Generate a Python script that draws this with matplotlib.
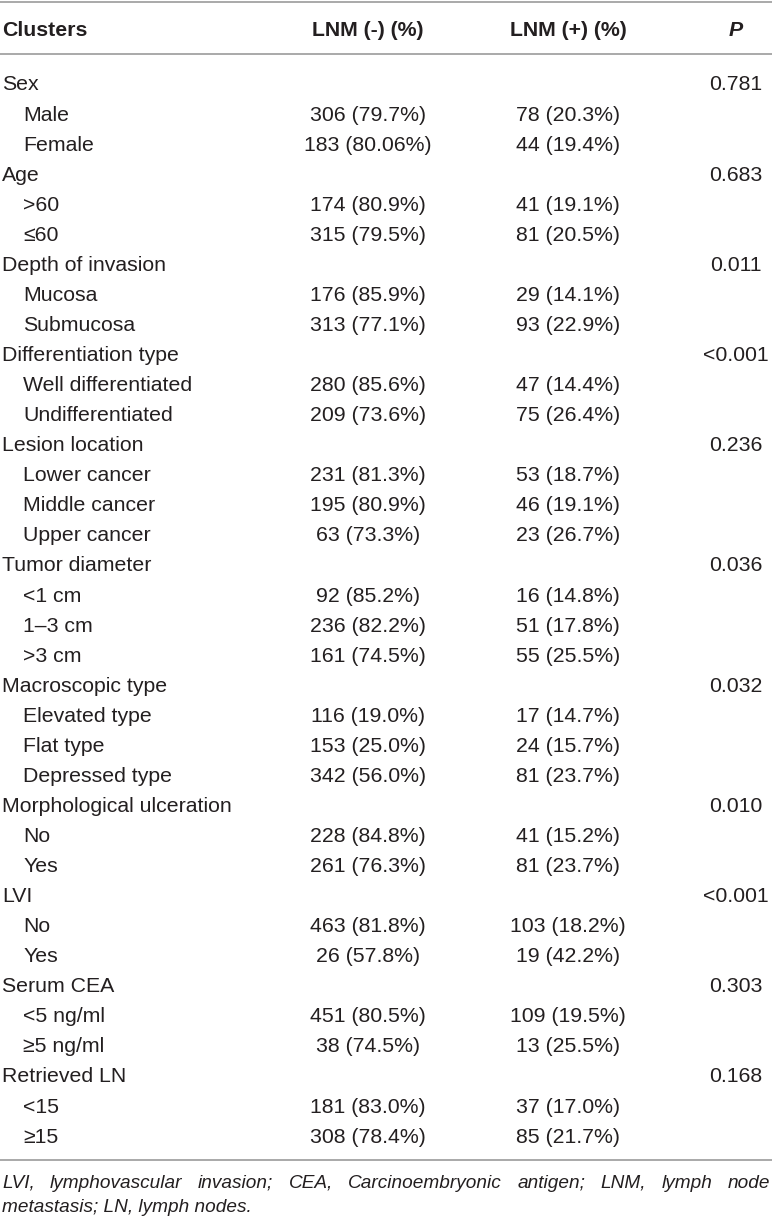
import matplotlib
matplotlib.use("Agg")
from matplotlib import pyplot as plt

# table contents
columns = ["Clusters", "LNM (-) (%)", "LNM (+) (%)", "P"]
groups = [
    "Sex", "Age", "Depth of invasion", "Differentiation type", "Lesion location",
    "Tumor diameter", "Macroscopic type", "Morphological ulceration", "LVI",
    "Serum CEA", "Retrieved LN",
]
p_values = [
    "0.781", "0.683", "0.011", "<0.001", "0.236", "0.036", "0.032", "0.010",
    "<0.001", "0.303", "0.168",
]
levels = [
    ["Male", "Female"],
    [">60", "≤60"],
    ["Mucosa", "Submucosa"],
    ["Well differentiated", "Undifferentiated"],
    ["Lower cancer", "Middle cancer", "Upper cancer"],
    ["<1 cm", "1–3 cm", ">3 cm"],
    ["Elevated type", "Flat type", "Depressed type"],
    ["No", "Yes"],
    ["No", "Yes"],
    ["<5 ng/ml", "≥5 ng/ml"],
    ["<15", "≥15"],
]
lnm_neg = [
    ["306 (79.7%)", "183 (80.06%)"],
    ["174 (80.9%)", "315 (79.5%)"],
    ["176 (85.9%)", "313 (77.1%)"],
    ["280 (85.6%)", "209 (73.6%)"],
    ["231 (81.3%)", "195 (80.9%)", "63 (73.3%)"],
    ["92 (85.2%)", "236 (82.2%)", "161 (74.5%)"],
    ["116 (19.0%)", "153 (25.0%)", "342 (56.0%)"],
    ["228 (84.8%)", "261 (76.3%)"],
    ["463 (81.8%)", "26 (57.8%)"],
    ["451 (80.5%)", "38 (74.5%)"],
    ["181 (83.0%)", "308 (78.4%)"],
]
lnm_pos = [
    ["78 (20.3%)", "44 (19.4%)"],
    ["41 (19.1%)", "81 (20.5%)"],
    ["29 (14.1%)", "93 (22.9%)"],
    ["47 (14.4%)", "75 (26.4%)"],
    ["53 (18.7%)", "46 (19.1%)", "23 (26.7%)"],
    ["16 (14.8%)", "51 (17.8%)", "55 (25.5%)"],
    ["17 (14.7%)", "24 (15.7%)", "81 (23.7%)"],
    ["41 (15.2%)", "81 (23.7%)"],
    ["103 (18.2%)", "19 (42.2%)"],
    ["109 (19.5%)", "13 (25.5%)"],
    ["37 (17.0%)", "85 (21.7%)"],
]
footnote_1 = ("LVI, lymphovascular invasion; CEA, Carcinoembryonic antigen; "
              "LNM, lymph node")
footnote_2 = "metastasis; LN, lymph nodes."

W, H = 772, 1222
plt.rcParams["font.family"] = ["Liberation Sans", "DejaVu Sans"]
TXT = "#231f20"
LINE = "#a3a3a3"
FS = 15.3

fig = plt.figure(figsize=(W / 100, H / 100), dpi=100)
ax = fig.add_axes([0, 0, 1, 1])
ax.set_xlim(0, W)
ax.set_ylim(H, 0)
ax.axis("off")

# column x positions (left label, centred numbers)
x_label, x_indent = 2, 23
x_neg, x_pos, x_p = 368, 568, 736

# rules
for y in (1.5, 54, 1160):
    ax.axhline(y, color=LINE, lw=1.3)

# header
ax.text(x_label, 31, columns[0], fontsize=FS, fontweight="bold", color=TXT,
        ha="left", va="center")
ax.text(x_neg, 31, columns[1], fontsize=FS, fontweight="bold", color=TXT,
        ha="center", va="center")
ax.text(x_pos, 31, columns[2], fontsize=FS, fontweight="bold", color=TXT,
        ha="center", va="center")
ax.text(x_p, 31, columns[3], fontsize=FS, fontweight="bold", style="italic",
        color=TXT, ha="center", va="center")

# body rows
y0, dy = 85, 30.06
row = 0
for g, p, levs, negs, poss in zip(groups, p_values, levels, lnm_neg, lnm_pos):
    y = y0 + row * dy
    ax.text(x_label, y, g, fontsize=FS, color=TXT, ha="left", va="center")
    ax.text(x_p, y, p, fontsize=FS, color=TXT, ha="center", va="center")
    row += 1
    for lev, n, q in zip(levs, negs, poss):
        y = y0 + row * dy
        ax.text(x_indent, y, lev, fontsize=FS, color=TXT, ha="left", va="center")
        ax.text(x_neg, y, n, fontsize=FS, color=TXT, ha="center", va="center")
        ax.text(x_pos, y, q, fontsize=FS, color=TXT, ha="center", va="center")
        row += 1

# footnote, first line justified across the width
FN = 13.7
words = footnote_1.split(" ")
objs = [ax.text(0, 1183, w, fontsize=FN, style="italic", color=TXT,
                ha="left", va="center") for w in words]
fig.canvas.draw()
r = fig.canvas.get_renderer()
widths = [o.get_window_extent(r).width for o in objs]
left, right = 2, 770
gap = (right - left - sum(widths)) / (len(words) - 1)
x = left
for o, w in zip(objs, widths):
    o.set_x(x)
    x += w + gap
ax.text(left, 1208, footnote_2, fontsize=FN, style="italic", color=TXT,
        ha="left", va="center")

fig.savefig("out.png", dpi=100)
